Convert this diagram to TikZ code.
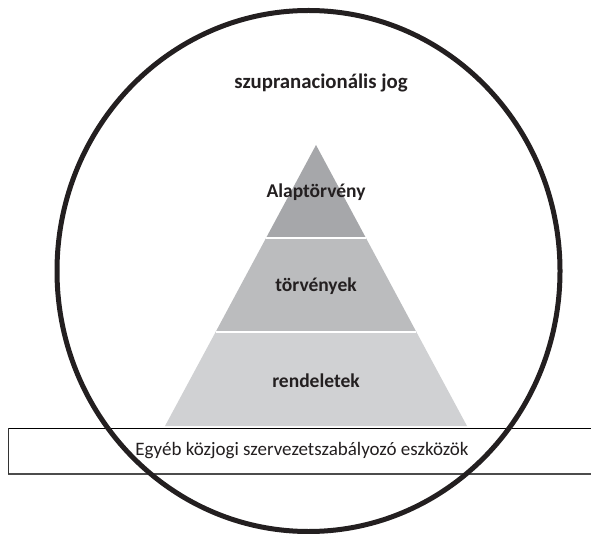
\documentclass[tikz,border=0pt]{standalone}
\usepackage{fontspec}
\setmainfont{Carlito}
\usetikzlibrary{shapes.geometric}
\definecolor{tierA}{HTML}{A6A7AA}
\definecolor{tierB}{HTML}{BBBCBE}
\definecolor{tierC}{HTML}{D0D1D3}
\definecolor{ringline}{HTML}{231F20}
\definecolor{ink}{HTML}{231F20}
\tikzset{
  tierlabel/.style={font=\bfseries\fontsize{19.5}{22}\selectfont, text=ink},
  titlelabel/.style={font=\bfseries\fontsize{20.8}{24}\selectfont, text=ink},
  boxlabel/.style={font=\fontsize{19}{22}\selectfont, text=ink},
  tiergap/.style={draw=white, line width=1.8pt},
}
\begin{document}
\begin{tikzpicture}[x=1pt, y=-1pt]
\useasboundingbox (0,0) rectangle (591,534);

% pyramid tiers (apex 316,145; base y=426)
\coordinate (apex) at (316,145);
\coordinate (l1) at (266.2,237.7);
\coordinate (r1) at (365.8,237.7);
\coordinate (l2) at (215.6,332);
\coordinate (r2) at (416.4,332);
\coordinate (l3) at (165,426);
\coordinate (r3) at (467,426);
\fill[tierA] (apex) -- (r1) -- (l1) -- cycle;
\fill[tierB] (l1) -- (r1) -- (r2) -- (l2) -- cycle;
\fill[tierC] (l2) -- (r2) -- (r3) -- (l3) -- cycle;
\draw[tiergap] (l1) -- (r1);
\draw[tiergap] (l2) -- (r2);

\node[tierlabel] (alap) at (316,192) {Alaptörvény};
\node[tierlabel] (torv) at (316,286) {törvények};
\node[tierlabel] (rend) at (316,381) {rendeletek};
\node[titlelabel] (szupra) at (321,83) {szupranacionális jog};

% band of other instruments, open towards the right
\coordinate (bandTL) at (8,428);
\coordinate (bandTR) at (591,428);
\coordinate (bandBL) at (8,474);
\coordinate (bandBR) at (591,474);
\fill[white] (bandTL) rectangle (bandBR);
\draw[black, line width=1pt] (bandTL) -- (bandTR);
\draw[black!70, line width=1.5pt] (bandBL) -- (bandBR);
\draw[black!80, line width=1pt] (bandTL) -- (bandBL);
\node[boxlabel] (egyeb) at (302,451) {Egyéb közjogi szervezetszabályozó eszközök};

% outer ring
\node[ellipse, draw=ringline, line width=5pt, minimum width=503pt, minimum height=521pt, inner sep=0pt] (ring) at (308.5,271) {};
\end{tikzpicture}
\end{document}
